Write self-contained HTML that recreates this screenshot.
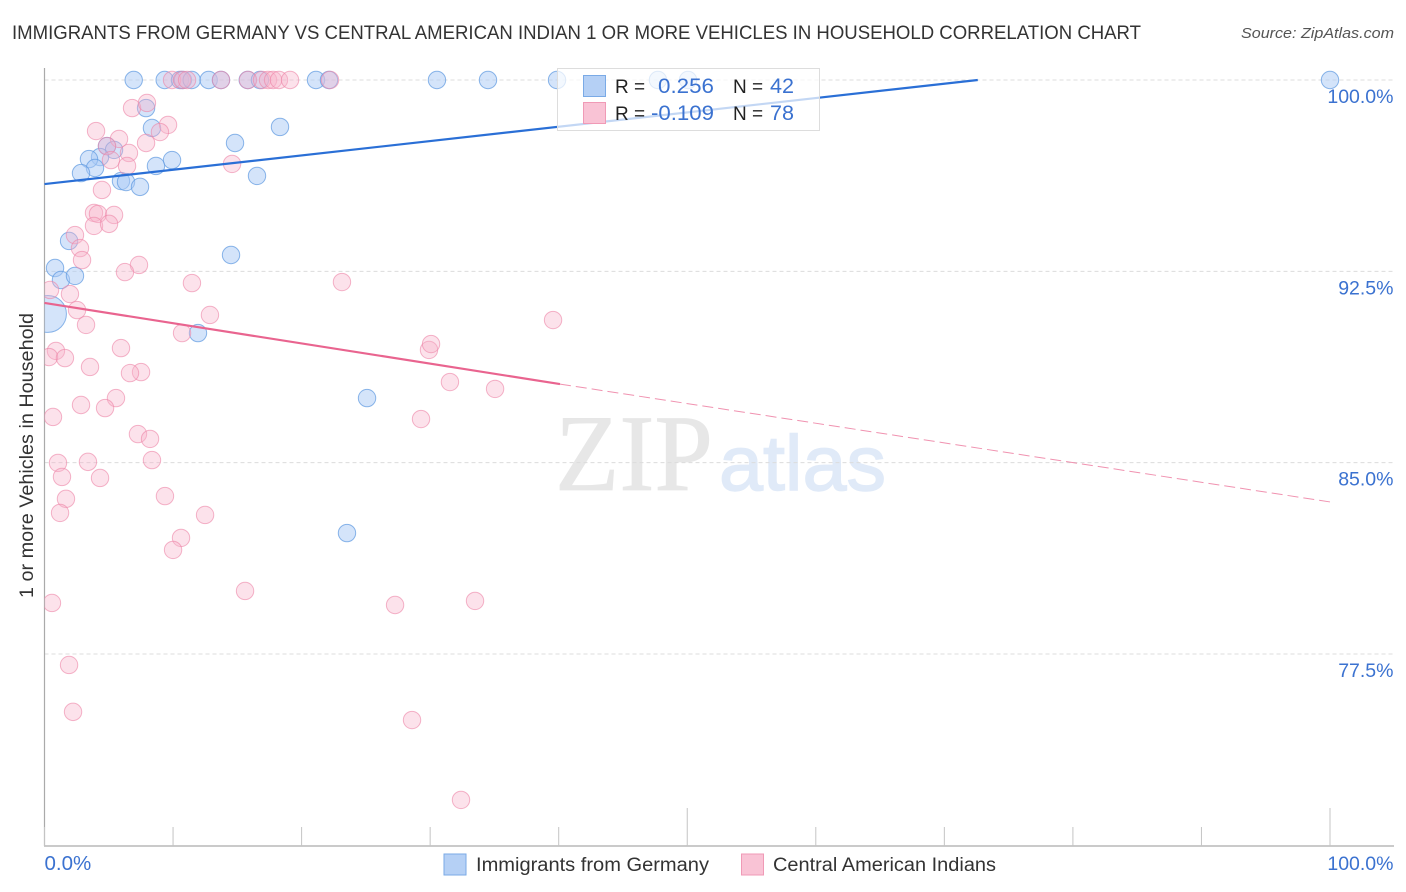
<!DOCTYPE html>
<html lang="en">
<head>
<meta charset="utf-8">
<title>Immigrants from Germany vs Central American Indian Correlation Chart</title>
<style>
html,body{margin:0;padding:0;background:#fff;}
svg{display:block;font-family:"Liberation Sans",sans-serif;}
</style>
</head>
<body>
<svg id="chart" xmlns="http://www.w3.org/2000/svg" width="1406" height="892" viewBox="0 0 1406 892">
  <defs>
    <clipPath id="plot-clip"><rect x="44.5" y="50" width="1362" height="796"></rect></clipPath>
  </defs>
  <rect x="0" y="0" width="1406" height="892" fill="#ffffff"></rect>
  <text x="12" y="39" font-size="19" fill="#333" textLength="1129" lengthAdjust="spacingAndGlyphs">IMMIGRANTS FROM GERMANY VS CENTRAL AMERICAN INDIAN 1 OR MORE VEHICLES IN HOUSEHOLD CORRELATION CHART</text>
  <text x="1241" y="38" font-size="15" font-style="italic" fill="#555" textLength="153" lengthAdjust="spacingAndGlyphs">Source: ZipAtlas.com</text>
  <g>
    <text x="555" y="490" font-family="'Liberation Serif',serif" font-size="109" fill="#e7e7e7" stroke="#e7e7e7" stroke-width="0.8" textLength="158" lengthAdjust="spacingAndGlyphs">ZIP</text>
    <text x="719" y="490" font-size="78" fill="#e0eaf8" stroke="#e0eaf8" stroke-width="1.4" textLength="167" lengthAdjust="spacingAndGlyphs">atlas</text>
  </g>
  <g id="grid"></g>
  <g id="axes"></g>
  <g id="points" clip-path="url(#plot-clip)"></g>
  <g id="trends"></g>
  <g>
    <rect x="557.5" y="68.5" width="262" height="62" fill="#ffffff" fill-opacity="0.72" stroke="#dddddd"></rect>
    <rect x="583.5" y="75.5" width="22" height="21" fill="#b5d0f5" stroke="#7aaae6"></rect>
    <rect x="583.5" y="102.5" width="22" height="21" fill="#f9c3d5" stroke="#f09ab6"></rect>
    <text x="615" y="93" font-size="19" fill="#222">R =</text>
    <text x="658" y="93" font-size="21" fill="#3b72d0" textLength="56" lengthAdjust="spacingAndGlyphs">0.256</text>
    <text x="733" y="93" font-size="19" fill="#222">N =</text>
    <text x="770" y="93" font-size="21" fill="#3b72d0" textLength="24" lengthAdjust="spacingAndGlyphs">42</text>
    <text x="615" y="120" font-size="19" fill="#222">R =</text>
    <text x="651" y="120" font-size="21" fill="#3b72d0" textLength="63" lengthAdjust="spacingAndGlyphs">-0.109</text>
    <text x="733" y="120" font-size="19" fill="#222">N =</text>
    <text x="770" y="120" font-size="21" fill="#3b72d0" textLength="24" lengthAdjust="spacingAndGlyphs">78</text>
  </g>
  <g>
    <rect x="444" y="854" width="22" height="21" fill="#b5d0f5" stroke="#7aaae6"></rect>
    <text x="476" y="871" font-size="19" fill="#333" textLength="233" lengthAdjust="spacingAndGlyphs">Immigrants from Germany</text>
    <rect x="741.5" y="854" width="22" height="21" fill="#f9c3d5" stroke="#f09ab6"></rect>
    <text x="773" y="871" font-size="19" fill="#333" textLength="223" lengthAdjust="spacingAndGlyphs">Central American Indians</text>
  </g>
  <text transform="translate(33,598) rotate(-90)" font-size="19" fill="#333" textLength="285" lengthAdjust="spacingAndGlyphs">1 or more Vehicles in Household</text>
</svg>
<script>
const blueX = [6.94,9.35,10.54,10.77,11.45,12.77,13.73,15.81,16.76,21.12,22.13,30.53,34.50,39.87,47.72,50.06,100,
  7.90,8.36,9.92,8.67,14.82,18.32,16.53,4.86,5.41,4.32,3.46,3.93,2.84,5.95,6.34,7.43,14.51,1.91,0.82,1.28,2.37,0.27,11.94,25.09,23.53];
const blueY = [100,100,100,100,100,100,100,100,100,100,100,100,100,100,100,100,100,
  98.90,98.12,96.86,96.63,97.53,98.16,96.24,97.41,97.26,96.98,96.90,96.55,96.35,96.04,96.00,95.81,93.14,93.69,92.63,92.16,92.32,90.83,90.08,87.53,82.24];
const blueWeight = [1,1,1,1,1,1,1,1,1,1,1,1,1,1,1,1,1,
  1,1,1,1,1,1,1,1,1,1,1,1,1,1,1,1,1,1,1,1,1,4.5,1,1,1];
const pinkX = [9.92,10.70,11.09,13.73,15.83,16.92,17.39,17.78,18.24,19.10,22.21,
  6.81,7.97,9.61,8.98,7.90,4.01,5.80,4.86,6.57,5.17,6.42,14.59,4.47,3.85,4.16,5.41,3.85,5.02,2.37,2.76,2.92,7.35,6.26,11.47,23.14,
  0.43,1.98,2.53,3.23,12.87,10.70,5.95,0.89,0.35,1.59,3.54,7.51,6.65,5.56,2.84,4.71,0.66,7.27,8.21,8.36,1.05,3.38,1.36,4.32,1.67,9.37,1.21,12.49,10.62,10.00,
  0.58,15.60,27.27,33.49,1.91,2.22,28.59,32.40,29.29,31.54,35.05,29.91,30.07,39.56];
const pinkY = [100,100,100,100,100,100,100,100,100,100,100,
  98.90,99.10,98.24,97.96,97.53,98.00,97.69,97.41,97.14,96.86,96.63,96.71,95.69,94.79,94.75,94.71,94.28,94.36,93.92,93.41,92.94,92.75,92.47,92.04,92.08,
  91.77,91.61,90.98,90.40,90.79,90.08,89.49,89.38,89.14,89.10,88.75,88.55,88.51,87.53,87.26,87.14,86.79,86.12,85.93,85.10,84.99,85.03,84.44,84.40,83.58,83.69,83.03,82.95,82.05,81.58,
  79.50,79.97,79.42,79.58,77.07,75.23,74.91,71.78,86.71,88.16,87.89,89.42,89.65,90.59];
const blueTrendX = [0, 72.6];
const blueTrendY = [95.92, 100];
const pinkTrendSolidX = [0, 40.1];
const pinkTrendSolidY = [91.26, 88.08];
const pinkTrendDashedX = [40.1, 100];
const pinkTrendDashedY = [88.08, 83.46];
const yTicks = [100, 92.5, 85, 77.5];
const yTickLabels = ["100.0%", "92.5%", "85.0%", "77.5%"];
const xTicks = [0,10,20,30,40,50,60,70,80,90,100];
const xMajorTicks = [50, 100];
const xEndTicks = [0, 100];
const xEndLabels = ["0.0%", "100.0%"];

const NS = "http://www.w3.org/2000/svg";
function xScale(v){ return 44.5 + v * 12.855; }
function yScale(v){ return 80 + (100 - v) * 25.51; }
function make(tag, parent, attrs){
  const el = document.createElementNS(NS, tag);
  for (const k in attrs) el.setAttribute(k, attrs[k]);
  parent.appendChild(el);
  return el;
}

const grid = document.getElementById("grid");
const axes = document.getElementById("axes");
const points = document.getElementById("points");
const trends = document.getElementById("trends");

yTicks.forEach(function(t, i){
  const line = make("line", grid, {x1:44.5, x2:1394, y1:yScale(t), y2:yScale(t), stroke:"#dcdcdc", "stroke-width":1, "stroke-dasharray":"4 3"});
  
  
  const label = make("text", axes, {x:1393.5, y:yScale(t)+23, "text-anchor":"end", "font-size":19.5, fill:"#3b72d0"});
  label.textContent = yTickLabels[i];
  
  
});

const yAxis = make("line", axes, {x1:44.5, x2:44.5, y1:68, y2:846, stroke:"#aaaaaa", "stroke-width":1.2});


const xAxis = make("line", axes, {x1:44, x2:1394, y1:846, y2:846, stroke:"#aaaaaa", "stroke-width":1.2});



xTicks.forEach(function(t){
  const top = xMajorTicks.indexOf(t) >= 0 ? 808 : 827;
  const tick = make("line", axes, {x1:xScale(t), x2:xScale(t), y1:top, y2:846, stroke:"#c4c4c4", "stroke-width":1});
  
  
});

xEndTicks.forEach(function(t, i){
  const label = make("text", axes, {x: i === 0 ? 44.5 : 1393.5, y:870, "text-anchor": i === 0 ? "start" : "end", "font-size": i === 0 ? 20.5 : 19.5, fill:"#3b72d0"});
  label.textContent = xEndLabels[i];
  
  
});

blueX.forEach(function(v, i){
  const c = make("circle", points, {cx:xScale(v), cy:yScale(blueY[i]), r:8.7*Math.sqrt(blueWeight[i]), fill:"#a9c9f5", "fill-opacity":0.5, stroke:"#5f9ae0", "stroke-opacity":0.72, "stroke-width":1});
  
  
});
pinkX.forEach(function(v, i){
  const c = make("circle", points, {cx:xScale(v), cy:yScale(pinkY[i]), r:8.7, fill:"#f8b4cb", "fill-opacity":0.38, stroke:"#ee86a8", "stroke-opacity":0.62, "stroke-width":1});
  
  
});

const blueLine = make("line", trends, {x1:xScale(blueTrendX[0]), y1:yScale(blueTrendY[0]), x2:xScale(blueTrendX[1]), y2:yScale(blueTrendY[1]), stroke:"#2a6fd6", "stroke-width":2.2});


const pinkSolid = make("line", trends, {x1:xScale(pinkTrendSolidX[0]), y1:yScale(pinkTrendSolidY[0]), x2:xScale(pinkTrendSolidX[1]), y2:yScale(pinkTrendSolidY[1]), stroke:"#e9648f", "stroke-width":2.2});


const pinkDashed = make("line", trends, {x1:xScale(pinkTrendDashedX[0]), y1:yScale(pinkTrendDashedY[0]), x2:xScale(pinkTrendDashedX[1]), y2:yScale(pinkTrendDashedY[1]), stroke:"#e9648f", "stroke-opacity":0.7, "stroke-width":1, "stroke-dasharray":"11 5"});


</script>
</body>
</html>
